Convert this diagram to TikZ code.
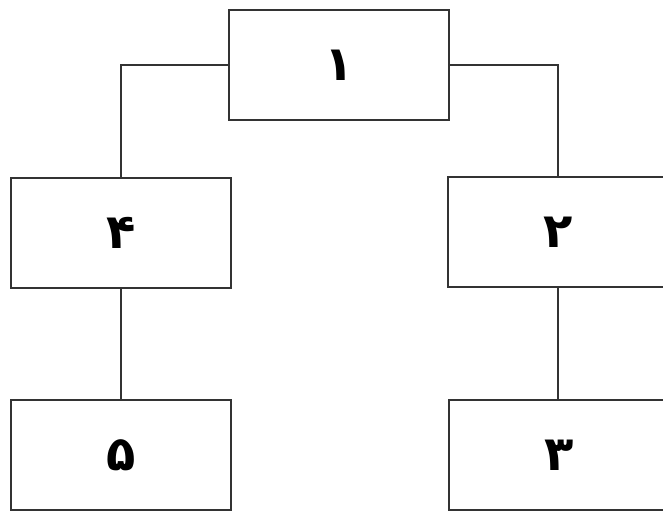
\documentclass[tikz,border=0pt]{standalone}
\usepackage{fontspec}
\newfontfamily\arabicfont[Script=Arabic]{DejaVu Sans}
\TeXXeTstate=1
\usetikzlibrary{positioning}

\begin{document}
\begin{tikzpicture}[x=1pt,y=-1pt,
    digitbox/.style={draw=black!80, line width=2.6pt, minimum width=220pt,
      minimum height=110pt, inner sep=0pt,
      font=\arabicfont\bfseries\fontsize{48}{50}\selectfont}]
      \begin{scope}
        \useasboundingbox (0,0) rectangle (663,512);
        \clip (0,0) rectangle (663,512);

        \node[digitbox] (one) at (339,65) {\beginR ۱\endR};
        \node[digitbox] (four) at (121,233) {\beginR ۴\endR};
        \node[digitbox] (two) at (558,232) {\beginR ۲\endR};
        \node[digitbox] (five) at (121,455) {\beginR ۵\endR};
        \node[digitbox] (three) at (559,455) {\beginR ۳\endR};

        \draw[-,line width=2.2pt,black!80] (one.west) -| (four.north);
        \draw[-,line width=2.2pt,black!80] (one.east) -| (two.north);
        \draw[-,line width=2.2pt,black!80] (four.south) -- (five.north);
        \draw[-,line width=2.2pt,black!80] (two.south) -- (two.south |- three.north);
      \end{scope}
    \end{tikzpicture}
\end{document}
